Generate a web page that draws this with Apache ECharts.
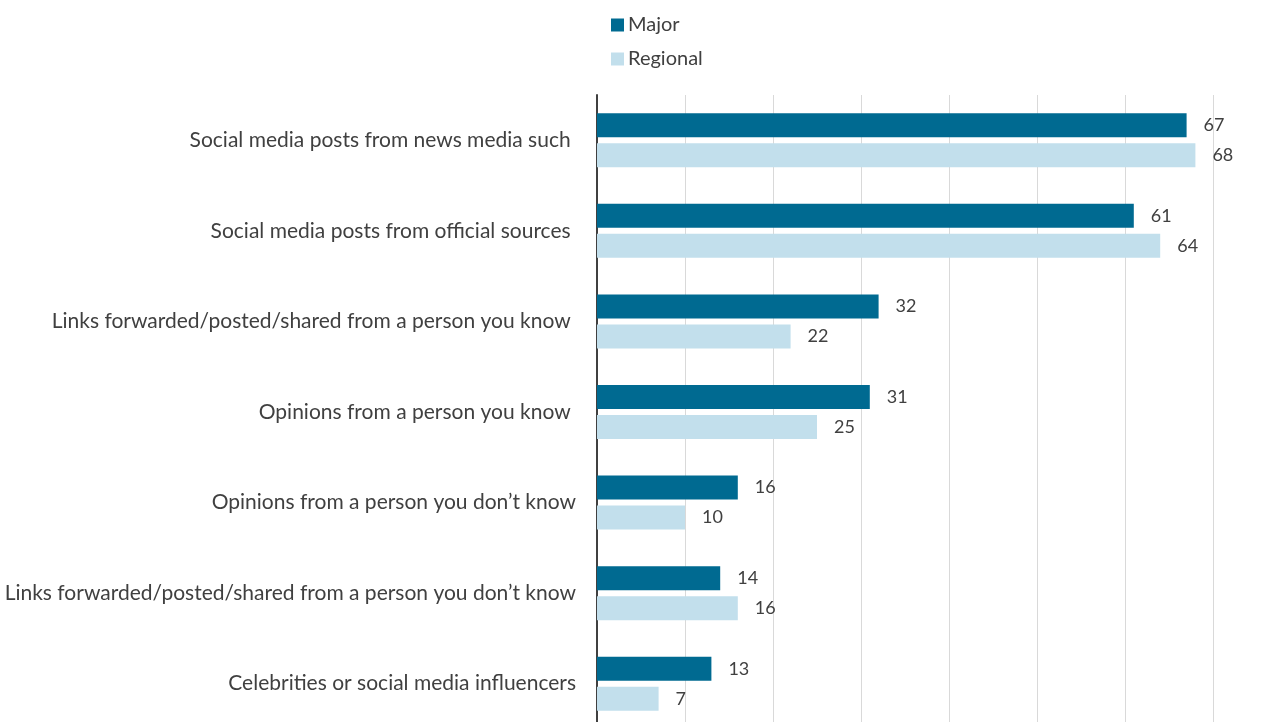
<!DOCTYPE html>
<html>
<head>
<meta charset="utf-8">
<script src="https://cdn.jsdelivr.net/npm/echarts@6/dist/echarts.min.js"></script>
<style>
  html, body { margin: 0; padding: 0; background: #ffffff; }
  #chart { width: 1288px; height: 722px; }
</style>
</head>
<body>
<div id="chart"></div>
<script>
// Information sources, share of respondents (%)
const categories = [
  'Social media posts from news media such ',
  'Social media posts from official sources ',
  'Links forwarded/posted/shared from a person you know ',
  'Opinions from a person you know ',
  'Opinions from a person you don\u2019t know',
  'Links forwarded/posted/shared from a person you don\u2019t know',
  'Celebrities or social media influencers'
];
const majorValues = [67, 61, 32, 31, 16, 14, 13];
const regionalValues = [68, 64, 22, 25, 10, 16, 7];
const seriesNames = ['Major', 'Regional'];

const FONT = 'Lato, "Open Sans", sans-serif';
const TEXT = '#404040';

const chart = echarts.init(document.getElementById('chart'));
const labelStyle = {
  show: true,
  position: 'right',
  distance: 17,
  color: TEXT,
  fontFamily: FONT,
  fontSize: 18
};

chart.setOption({
  animation: false,
  legend: {
    orient: 'vertical',
    left: 606,
    top: 10,
    itemWidth: 13,
    itemHeight: 13,
    itemGap: 14,
    icon: 'rect',
    textStyle: { color: TEXT, fontFamily: FONT, fontSize: 20, padding: [0, 0, 0, -1] },
    data: seriesNames
  },
  grid: {
    left: 597, right: 75, top: 95, height: 634,
    containLabel: false,
    outerBoundsMode: 'none'
  },
  xAxis: {
    type: 'value',
    min: 0,
    max: 70,
    interval: 10,
    axisLine: { show: false },
    axisTick: { show: false },
    axisLabel: { show: false },
    splitLine: { show: true, lineStyle: { color: '#d9d9d9', width: 1 } }
  },
  yAxis: {
    type: 'category',
    inverse: true,
    data: categories,
    axisLine: { show: true, lineStyle: { color: TEXT, width: 2 } },
    axisTick: { show: false },
    axisLabel: { color: TEXT, fontFamily: FONT, fontSize: 21, margin: 21 }
  },
  series: [
    {
      name: seriesNames[0],
      type: 'bar',
      data: majorValues,
      barWidth: 24,
      barGap: '25%',
      itemStyle: { color: '#006a91' },
      label: labelStyle
    },
    {
      name: seriesNames[1],
      type: 'bar',
      data: regionalValues,
      barWidth: 24,
      itemStyle: { color: '#c2dfec' },
      label: labelStyle
    }
  ]
});
</script>
</body>
</html>
